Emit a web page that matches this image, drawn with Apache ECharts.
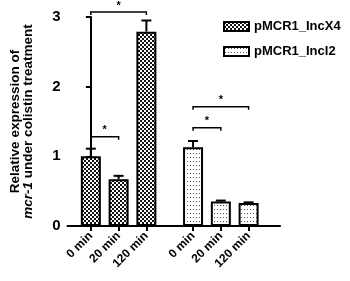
<!DOCTYPE html>
<html><head><meta charset="utf-8">
<script src="https://cdn.jsdelivr.net/npm/echarts@6/dist/echarts.min.js"></script>
<style>html,body{margin:0;padding:0;background:#fff}#c{width:350px;height:281px}</style>
</head><body><div id="c"></div>
<script>
var seriesNames = ['pMCR1_IncX4', 'pMCR1_IncI2'];
var timeLabels = ['0 min', '20 min', '120 min'];
var incX4Means = [1.00, 0.67, 2.79];
var incX4Errors = [0.11, 0.05, 0.16];
var incI2Means = [1.13, 0.35, 0.33];
var incI2Errors = [0.09, 0.015, 0.01];
// slot index of each bar along the x axis (group 2 after a gap)
var slotsX4 = [0, 1, 2];
var slotsI2 = [3.68, 4.68, 5.68];
// significance brackets: [fromSlot, toSlot, yLevel]
var brackets = [[0, 2, 3.07], [0, 1, 1.28], [3.68, 5.68, 1.71], [3.68, 4.68, 1.41]];

var FONT = 'Liberation Sans';
function checker() {
  var c = document.createElement('canvas'); c.width = 4; c.height = 4;
  var g = c.getContext('2d'); g.fillStyle = '#fff'; g.fillRect(0,0,4,4);
  g.fillStyle = '#111'; g.fillRect(0,0,2,2); g.fillRect(2,2,2,2);
  return c;
}
function dots() {
  var c = document.createElement('canvas'); c.width = 3; c.height = 4;
  var g = c.getContext('2d'); g.fillStyle = '#fff'; g.fillRect(0,0,3,4);
  g.fillStyle = '#555'; g.fillRect(1,1,1,1);
  return c;
}
var patX4 = {image: checker(), repeat: 'repeat'};
var patI2 = {image: dots(), repeat: 'repeat'};

var allSlots = slotsX4.concat(slotsI2);
var allLabels = timeLabels.concat(timeLabels);

function barData(slots, vals){ return slots.map(function(s,i){return [s, vals[i]];}); }
function errData(slots, vals, errs){ return slots.map(function(s,i){return [s, vals[i], vals[i]+errs[i]];}); }

function errRender(params, api) {
  var x = api.value(0);
  var p0 = api.coord([x, api.value(1)]);
  var p1 = api.coord([x, api.value(2)]);
  var st = {stroke: '#000', lineWidth: 2};
  return {type: 'group', children: [
    {type: 'line', shape: {x1: p0[0], y1: p0[1], x2: p1[0], y2: p1[1]}, style: st},
    {type: 'line', shape: {x1: p1[0]-5, y1: p1[1], x2: p1[0]+5, y2: p1[1]}, style: st}
  ]};
}
function brRender(params, api) {
  var a = api.coord([api.value(0), api.value(2)]);
  var b = api.coord([api.value(1), api.value(2)]);
  return {type: 'group', children: [
    {type: 'polyline', shape: {points: [[a[0], a[1]+3], [a[0], a[1]], [b[0], b[1]], [b[0], b[1]+3]]},
     style: {stroke: '#000', lineWidth: 1.5, fill: null}},
    {type: 'text', style: {text: '*', x: (a[0]+b[0])/2, y: a[1]-1, align: 'center', verticalAlign: 'bottom',
      font: 'bold 11px ' + FONT, fill: '#000'}}
  ]};
}

var chart = echarts.init(document.getElementById('c'));
chart.setOption({
  animation: false,
  grid: {left: 62, right: 70, top: 17, bottom: 55},
  legend: {
    orient: 'vertical', left: 218, top: 15, itemGap: 12,
    itemWidth: 25, itemHeight: 9, icon: 'rect',
    textStyle: {fontFamily: FONT, fontWeight: 'bold', fontSize: 13, color: '#000'},
    data: seriesNames
  },
  xAxis: {
    type: 'value', min: -0.84, max: 6.81,
    splitLine: {show: false},
    axisLine: {show: true, lineStyle: {color: '#000', width: 2}},
    axisTick: {show: true, customValues: allSlots, length: 5, lineStyle: {color: '#000', width: 2}},
    axisLabel: {customValues: allSlots, rotate: 45, margin: 8,
      fontFamily: FONT, fontWeight: 'bold', fontSize: 12, color: '#000',
      formatter: function(v){ var i = allSlots.indexOf(v); return i >= 0 ? allLabels[i] : ''; }}
  },
  yAxis: {
    type: 'value', min: 0, max: 3, interval: 1,
    splitLine: {show: false},
    axisLine: {show: true, lineStyle: {color: '#000', width: 2}},
    axisTick: {show: true, length: 5, lineStyle: {color: '#000', width: 2}},
    axisLabel: {fontFamily: FONT, fontWeight: 'bold', fontSize: 15, color: '#000', margin: 7},
    name: 'Relative expression of\n{i|mcr-1} under colistin treatment',
    nameLocation: 'middle', nameGap: 33, nameRotate: 90,
    nameTextStyle: {fontFamily: FONT, fontWeight: 'bold', fontSize: 13.5, color: '#000', lineHeight: 13,
      rich: {i: {fontFamily: FONT, fontWeight: 'bold', fontStyle: 'italic', fontSize: 13.5, color: '#000', lineHeight: 13}}}
  },
  series: [
    {name: seriesNames[0], type: 'bar', barWidth: 20, data: barData(slotsX4, incX4Means),
     itemStyle: {color: patX4, borderColor: '#000', borderWidth: 2}},
    {name: seriesNames[1], type: 'bar', barWidth: 20, barGap: '-100%', data: barData(slotsI2, incI2Means),
     itemStyle: {color: patI2, borderColor: '#000', borderWidth: 2}},
    {type: 'custom', renderItem: errRender, data: errData(slotsX4, incX4Means, incX4Errors), z: 1, clip: false},
    {type: 'custom', renderItem: errRender, data: errData(slotsI2, incI2Means, incI2Errors), z: 1, clip: false},
    {type: 'custom', renderItem: brRender, data: brackets, clip: false, z: 5}
  ]
});
</script></body></html>
